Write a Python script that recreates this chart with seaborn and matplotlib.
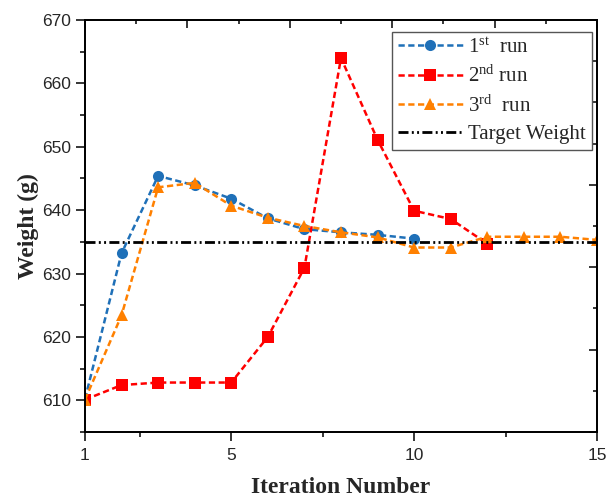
import numpy as np
import pandas as pd
import matplotlib
matplotlib.use("Agg")
import matplotlib.pyplot as plt
from matplotlib.ticker import FixedLocator, MultipleLocator, NullFormatter
import seaborn as sns

# ---- data ----
iter_run1 = [1, 2, 3, 4, 5, 6, 7, 8, 9, 10]
weight_run1 = [610.2, 633.2, 645.4, 643.9, 641.8, 638.7, 637.0, 636.5, 636.1, 635.5]

iter_run2 = [1, 2, 3, 4, 5, 6, 7, 8, 9, 10, 11, 12]
weight_run2 = [610.1, 612.4, 612.8, 612.8, 612.8, 620.0, 630.9, 664.0, 651.1, 639.9, 638.6, 634.7]

iter_run3 = [1, 2, 3, 4, 5, 6, 7, 8, 9, 10, 11, 12, 13, 14, 15]
weight_run3 = [610.1, 623.4, 643.6, 644.3, 640.7, 638.8, 637.5, 636.5, 635.7, 634.1, 634.1, 635.8, 635.8, 635.8, 635.3]

target_iters = [1, 15]
target_weight = [635, 635]

labels = [r"1$^{\mathrm{st}}$  run", r"2$^{\mathrm{nd}}$ run", r"3$^{\mathrm{rd}}$  run", "Target Weight"]
x_ticks = [1, 5, 10, 15]
y_ticks = [610, 620, 630, 640, 650, 660, 670]

sns.set_theme(style="white")
plt.rcParams["font.family"] = ["Liberation Sans", "DejaVu Sans"]
plt.rcParams["mathtext.fontset"] = "custom"
plt.rcParams["mathtext.rm"] = "Liberation Serif"
plt.rcParams["mathtext.it"] = "Liberation Serif:italic"
plt.rcParams["mathtext.bf"] = "Liberation Serif:bold"

fig = plt.figure(figsize=(6.07, 4.99), dpi=100)
ax = fig.add_axes([0.140, 0.1343, 0.8435, 0.8257])

blue = "#1f70b8"
red = "#ff0000"
orange = "#ff8000"

common = dict(linewidth=1.8, markersize=8, ax=ax)
sns.lineplot(x=iter_run1, y=weight_run1, color=blue, marker="o", markeredgewidth=0,
             label=labels[0], **common)
sns.lineplot(x=iter_run2, y=weight_run2, color=red, marker="s", markeredgewidth=0,
             label=labels[1], **common)
sns.lineplot(x=iter_run3, y=weight_run3, color=orange, marker="^", markeredgewidth=0,
             label=labels[2], **common)
sns.lineplot(x=target_iters, y=target_weight, color="black", linewidth=2.0,
             label=labels[3], ax=ax)

for i, line in enumerate(ax.get_lines()):
    if i < 3:
        line.set_dashes([2.5, 1.4])
    else:
        line.set_dashes([3.6, 1.2, 0.7, 1.2, 0.7, 1.2])

ax.set_xlim(1, 15)
ax.set_ylim(605, 670)

# mirrored top / right axes with their own tick spacing (no labels)
axt = ax.twiny()
axt.set_xlim(0, 5)
axt.xaxis.set_major_locator(MultipleLocator(1))
axt.xaxis.set_minor_locator(MultipleLocator(0.5))
axt.xaxis.set_major_formatter(NullFormatter())
axt.tick_params(axis="x", which="major", direction="in", length=6, width=1.1, top=True, bottom=False, color="black")
axt.tick_params(axis="x", which="minor", direction="in", length=3.2, width=1.1, top=True, bottom=False, color="black")
axr = ax.twinx()
axr.set_ylim(0, 5)
axr.yaxis.set_major_locator(MultipleLocator(1))
axr.yaxis.set_minor_locator(MultipleLocator(0.5))
axr.yaxis.set_major_formatter(NullFormatter())
axr.tick_params(axis="y", which="major", direction="in", length=6, width=1.1, right=True, left=False, color="black")
axr.tick_params(axis="y", which="minor", direction="in", length=3.2, width=1.1, right=True, left=False, color="black")
for a in (axt, axr):
    for s in a.spines.values():
        s.set_linewidth(1.1)
        s.set_color("black")

ax.xaxis.set_major_locator(FixedLocator(x_ticks))
ax.xaxis.set_minor_locator(FixedLocator([2.5, 7.5, 12.5]))
ax.yaxis.set_major_locator(FixedLocator(y_ticks))
ax.yaxis.set_minor_locator(MultipleLocator(5))
ax.tick_params(axis="both", which="major", direction="out", length=6.5, width=1.1,
               labelsize=12.5, color="black", bottom=True, left=True, top=False, right=False)
ax.tick_params(axis="both", which="minor", direction="out", length=3.6, width=1.1,
               color="black", bottom=True, left=True, top=False, right=False)
ax.tick_params(axis="x", pad=5)
for s in ax.spines.values():
    s.set_linewidth(1.1)
    s.set_color("black")

ax.set_xlabel("Iteration Number", fontsize=17, fontweight="bold", family="Liberation Serif", labelpad=10)
ax.set_ylabel("Weight (g)", fontsize=17, fontweight="bold", family="Liberation Serif", labelpad=2)

leg = ax.legend(loc="upper right", bbox_to_anchor=(0.990, 0.971), borderaxespad=0,
                prop={"family": "Liberation Serif", "size": 15}, frameon=True, fancybox=False,
                handlelength=3.1, handletextpad=0.25, labelspacing=0.39, borderpad=0.3,
                framealpha=1, markerscale=1.0)
leg.get_frame().set_edgecolor("#555555")
leg.get_frame().set_linewidth(1.0)
leg.remove()
axr.add_artist(leg)

fig.savefig("out.png", dpi=100)
